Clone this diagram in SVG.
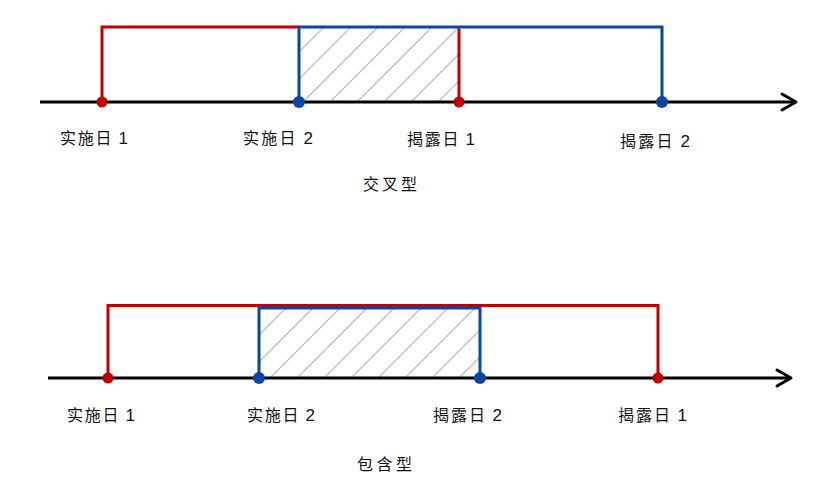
<svg xmlns="http://www.w3.org/2000/svg" width="831" height="501" viewBox="0 0 831 501">
<style>
.axis{stroke:#000;stroke-width:3;fill:none}
.arr{stroke:#000;stroke-width:3;fill:none;stroke-linecap:round;stroke-linejoin:round}
.red{stroke:#C00000;stroke-width:3;fill:none}
.blue{stroke:#0B47A1;stroke-width:3;fill:none}
.dr{fill:#C00000}
.db{fill:#0B47A1}
.lbl{font-family:"Noto Sans CJK SC","Liberation Sans",sans-serif;font-size:16px;fill:#111}
.num{font-family:"Liberation Sans",Arial,sans-serif;font-size:17px}
</style>
<defs>
<pattern id="hatch" patternUnits="userSpaceOnUse" width="27" height="27">
<path d="M0,27 L27,0 M-7,7 L7,-7 M20,34 L34,20" stroke="#BDBDBD" stroke-width="1.3"/>
</pattern>
</defs>
<rect width="831" height="501" fill="#fff"/>
<g id="crossing">
<rect x="299" y="27" width="160" height="75" fill="url(#hatch)"/>
<g id="connectors-top">
<line class="axis" x1="40" y1="102" x2="795" y2="102"/>
<polyline class="arr" points="782,94 796,102 782,110"/>
<polyline class="red" points="102,102 102,27 299,27"/>
<polyline class="blue" points="299,102 299,27 662,27 662,102"/>
<line class="red" x1="459" y1="28.5" x2="459" y2="102"/>
</g>
<g id="t-impl1"><circle class="dr" cx="102" cy="102" r="5.5"/><text class="lbl" x="60" y="144" textLength="68" lengthAdjust="spacing">实施日 <tspan class="num">1</tspan></text></g>
<g id="t-impl2"><circle class="db" cx="299" cy="102" r="6"/><text class="lbl" x="243" y="144" textLength="70" lengthAdjust="spacing">实施日 <tspan class="num">2</tspan></text></g>
<g id="t-disc1"><circle class="dr" cx="459" cy="102" r="5.5"/><text class="lbl" x="407" y="145" textLength="68" lengthAdjust="spacing">揭露日 <tspan class="num">1</tspan></text></g>
<g id="t-disc2"><circle class="db" cx="662" cy="102" r="6"/><text class="lbl" x="620" y="147" textLength="70" lengthAdjust="spacing">揭露日 <tspan class="num">2</tspan></text></g>
<g id="t-title"><text class="lbl" x="363" y="190" textLength="54" lengthAdjust="spacing">交叉型</text></g>
</g>
<g id="containing">
<rect x="259" y="308" width="221" height="70" fill="url(#hatch)"/>
<g id="connectors-bottom">
<line class="axis" x1="48" y1="378" x2="790" y2="378"/>
<polyline class="arr" points="777,370 791,378 777,386"/>
<polyline class="red" points="108,378 108,305.5 658,305.5 658,378"/>
<polyline class="blue" points="259,378 259,308 480,308 480,378"/>
</g>
<g id="b-impl1"><circle class="dr" cx="108" cy="378" r="5.5"/><text class="lbl" x="67" y="421" textLength="68" lengthAdjust="spacing">实施日 <tspan class="num">1</tspan></text></g>
<g id="b-impl2"><circle class="db" cx="259" cy="378" r="6"/><text class="lbl" x="247" y="421" textLength="68" lengthAdjust="spacing">实施日 <tspan class="num">2</tspan></text></g>
<g id="b-disc2"><circle class="db" cx="480" cy="378" r="6"/><text class="lbl" x="433" y="421" textLength="69" lengthAdjust="spacing">揭露日 <tspan class="num">2</tspan></text></g>
<g id="b-disc1"><circle class="dr" cx="658" cy="378" r="5.5"/><text class="lbl" x="618" y="421" textLength="69" lengthAdjust="spacing">揭露日 <tspan class="num">1</tspan></text></g>
<g id="b-title"><text class="lbl" x="357" y="470" textLength="55" lengthAdjust="spacing">包含型</text></g>
</g>
</svg>
